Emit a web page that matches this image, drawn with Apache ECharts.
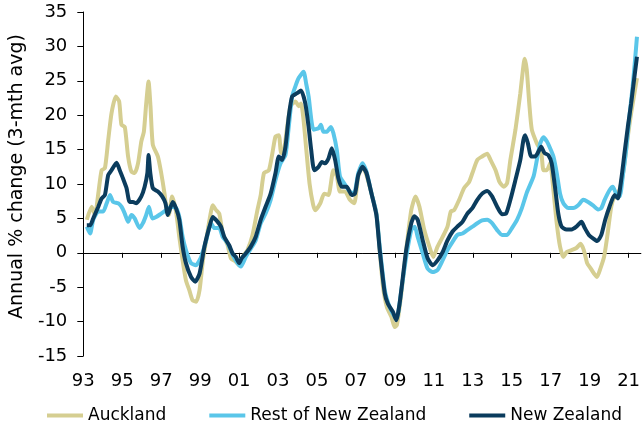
<!DOCTYPE html>
<html>
<head>
<meta charset="utf-8">
<script src="https://cdn.jsdelivr.net/npm/echarts@6/dist/echarts.min.js"></script>
<style>
  html, body { margin: 0; padding: 0; background: #fff; }
  #chart { width: 643px; height: 429px; }
</style>
</head>
<body>
<div id="chart"></div>
<script>
  // x labels (two-digit years), every second year from 1993
  var xTickLabels = ['93', '95', '97', '99', '01', '03', '05', '07', '09', '11', '13', '15', '17', '19', '21']
  var xTickYears = xTickLabels.map(function (s, i) { return 1993 + i * 2 })

  var seriesNames = ['Auckland', 'Rest of New Zealand', 'New Zealand']
  var seriesColors = ['#d5ce91', '#5ac6e9', '#0b3c5d']

  // [year, annual % change (3-mth avg)]
  var auckland = [
    [1993.18, 4.8], [1993.43, 6.7], [1993.6, 5.5], [1993.77, 8.6], [1993.94, 12.0], [1994.11, 12.3], [1994.28, 16.4],
    [1994.45, 20.3], [1994.67, 22.7], [1994.84, 22.0], [1994.96, 18.6], [1995.13, 18.3], [1995.3, 14.0], [1995.47, 11.8],
    [1995.64, 11.6], [1995.81, 13.0], [1995.98, 16.2], [1996.11, 17.6], [1996.23, 21.7], [1996.35, 24.9], [1996.45, 21.3],
    [1996.57, 15.7], [1996.83, 14.0], [1997.0, 11.6], [1997.17, 8.6], [1997.28, 6.2], [1997.39, 5.5], [1997.56, 8.2],
    [1997.76, 6.0], [1997.93, 2.3], [1998.1, -1.1], [1998.27, -4.0], [1998.44, -5.4], [1998.61, -6.9], [1998.8, -7.1],
    [1998.97, -5.4], [1999.14, -1.1], [1999.31, 1.8], [1999.48, 4.8], [1999.65, 6.9], [1999.82, 6.2], [1999.98, 5.7],
    [2000.16, 2.8], [2000.41, 1.1], [2000.58, -0.8], [2000.83, -1.3], [2001.0, -1.8], [2001.18, -0.6], [2001.43, 0.4],
    [2001.69, 2.6], [2001.94, 6.2], [2002.11, 8.4], [2002.28, 11.6], [2002.53, 12.0], [2002.71, 14.5], [2002.87, 16.9],
    [2003.04, 17.1], [2003.16, 14.5], [2003.3, 14.9], [2003.47, 18.3], [2003.64, 21.3], [2003.9, 22.0], [2004.06, 21.3],
    [2004.18, 21.7], [2004.31, 19.3], [2004.45, 15.0], [2004.62, 10.0], [2004.8, 7.0], [2004.91, 6.2], [2005.17, 7.2],
    [2005.37, 8.6], [2005.59, 8.4], [2005.84, 12.0], [2006.02, 11.1], [2006.18, 8.9], [2006.44, 8.9], [2006.69, 7.7],
    [2006.91, 7.2], [2007.12, 11.1], [2007.34, 12.5], [2007.54, 11.3], [2007.8, 8.6], [2008.05, 5.7], [2008.22, 0.4],
    [2008.39, -4.9], [2008.59, -7.9], [2008.82, -9.3], [2008.99, -10.8], [2009.1, -10.5], [2009.33, -5.9], [2009.58, 0.4],
    [2009.84, 6.2], [2010.06, 8.2], [2010.26, 6.7], [2010.51, 3.3], [2010.77, 0.9], [2010.97, -0.6], [2011.19, 0.9],
    [2011.45, 2.3], [2011.7, 3.8], [2011.87, 6.0], [2012.04, 6.2], [2012.3, 7.7], [2012.55, 9.4], [2012.81, 10.3],
    [2012.98, 11.6], [2013.23, 13.5], [2013.48, 14.0], [2013.74, 14.4], [2013.91, 13.5], [2014.17, 12.0], [2014.37, 10.3],
    [2014.59, 9.6], [2014.76, 10.1], [2014.93, 13.5], [2015.19, 17.9], [2015.44, 23.2], [2015.55, 26.0], [2015.66, 28.2],
    [2015.77, 26.6], [2015.9, 21.7], [2016.03, 17.9], [2016.29, 15.9], [2016.51, 14.7], [2016.63, 12.0], [2016.8, 12.0],
    [2016.97, 13.0], [2017.14, 9.1], [2017.31, 4.3], [2017.48, 0.9], [2017.65, -0.6], [2017.82, 0.1], [2018.07, 0.4],
    [2018.32, 0.7], [2018.53, 1.3], [2018.7, 0.4], [2018.87, -1.5], [2019.06, -2.3], [2019.22, -3.0], [2019.38, -3.5],
    [2019.55, -2.3], [2019.74, -0.6], [2019.9, 2.3], [2020.11, 6.7], [2020.28, 8.2], [2020.45, 8.6], [2020.62, 10.1],
    [2020.79, 13.0], [2020.96, 16.9], [2021.13, 20.3], [2021.3, 23.2], [2021.43, 25.4]
  ]

  var restOfNZ = [
    [1993.18, 3.8], [1993.35, 2.8], [1993.51, 4.8], [1993.77, 6.0], [1994.02, 6.0], [1994.2, 7.2], [1994.37, 8.4],
    [1994.53, 7.4], [1994.79, 7.2], [1994.96, 6.7], [1995.13, 5.7], [1995.3, 4.5], [1995.47, 5.5], [1995.64, 5.0],
    [1995.89, 3.6], [1996.06, 4.3], [1996.23, 5.5], [1996.37, 6.7], [1996.54, 5.0], [1996.74, 5.2], [1997.0, 5.7],
    [1997.25, 6.2], [1997.51, 6.7], [1997.76, 6.5], [1997.93, 5.2], [1998.1, 2.3], [1998.27, 0.4], [1998.53, -1.5],
    [1998.78, -1.8], [1999.05, -0.6], [1999.31, 1.8], [1999.56, 4.3], [1999.73, 3.6], [1999.98, 3.6], [2000.16, 2.3],
    [2000.41, 1.4], [2000.67, -0.3], [2000.92, -1.5], [2001.09, -2.0], [2001.34, -0.6], [2001.6, 0.6], [2001.85, 1.8],
    [2002.11, 4.3], [2002.36, 5.7], [2002.62, 7.7], [2002.87, 10.6], [2003.13, 13.0], [2003.38, 14.2], [2003.55, 18.3],
    [2003.72, 22.7], [2003.89, 24.2], [2004.06, 25.4], [2004.31, 26.3], [2004.45, 24.5], [2004.57, 22.7], [2004.82, 17.9],
    [2005.08, 18.1], [2005.2, 18.6], [2005.33, 17.6], [2005.51, 17.6], [2005.71, 18.3], [2005.84, 17.4], [2006.02, 14.9],
    [2006.18, 11.1], [2006.44, 9.9], [2006.69, 8.9], [2006.9, 8.6], [2007.12, 11.6], [2007.34, 13.0], [2007.54, 11.8],
    [2007.8, 8.6], [2008.05, 5.7], [2008.22, 0.9], [2008.48, -5.4], [2008.73, -7.9], [2008.99, -9.3], [2009.1, -9.5],
    [2009.33, -5.4], [2009.58, -0.6], [2009.84, 3.3], [2010.02, 3.8], [2010.17, 2.3], [2010.43, -0.1], [2010.68, -2.3],
    [2010.94, -2.8], [2011.19, -2.5], [2011.45, -1.1], [2011.7, 0.4], [2011.96, 1.6], [2012.21, 2.6], [2012.47, 2.8],
    [2012.72, 3.3], [2012.98, 3.8], [2013.23, 4.3], [2013.48, 4.7], [2013.74, 4.8], [2013.99, 4.3], [2014.25, 3.3],
    [2014.5, 2.6], [2014.76, 2.6], [2015.01, 3.6], [2015.27, 4.8], [2015.52, 6.5], [2015.78, 8.8], [2016.12, 11.1],
    [2016.29, 13.5], [2016.46, 15.9], [2016.63, 16.8], [2016.8, 16.2], [2016.97, 15.2], [2017.14, 14.0], [2017.31, 11.6],
    [2017.48, 8.6], [2017.65, 7.2], [2017.9, 6.5], [2018.16, 6.5], [2018.41, 6.9], [2018.67, 7.7], [2018.92, 7.4],
    [2019.17, 6.9], [2019.43, 6.3], [2019.6, 6.5], [2019.77, 7.7], [2020.02, 9.1], [2020.19, 9.6], [2020.36, 8.6],
    [2020.54, 8.2], [2020.7, 11.1], [2020.87, 14.9], [2021.04, 19.8], [2021.21, 24.2], [2021.33, 28.0], [2021.43, 31.4]
  ]

  var newZealand = [
    [1993.18, 4.0], [1993.35, 4.0], [1993.51, 5.0], [1993.77, 6.7], [1993.94, 7.9], [1994.11, 8.4], [1994.28, 11.3],
    [1994.45, 12.0], [1994.71, 13.1], [1994.87, 12.0], [1995.04, 10.8], [1995.22, 9.4], [1995.38, 7.4], [1995.55, 7.4],
    [1995.72, 7.2], [1995.98, 8.2], [1996.15, 9.6], [1996.29, 11.6], [1996.35, 14.2], [1996.44, 11.6], [1996.57, 9.4],
    [1996.83, 8.9], [1997.05, 8.2], [1997.22, 7.2], [1997.34, 5.5], [1997.59, 7.4], [1997.76, 6.5], [1997.93, 4.8],
    [1998.1, 0.9], [1998.27, -1.5], [1998.53, -3.5], [1998.75, -4.2], [1998.97, -3.0], [1999.22, 0.9], [1999.48, 3.8],
    [1999.65, 5.2], [1999.9, 4.5], [2000.07, 3.8], [2000.24, 2.3], [2000.49, 1.1], [2000.67, -0.1], [2000.83, -0.6],
    [2001.0, -1.5], [2001.13, -0.8], [2001.34, -0.1], [2001.6, 0.9], [2001.85, 2.3], [2002.11, 4.8], [2002.36, 6.7],
    [2002.62, 8.6], [2002.87, 11.6], [2003.04, 14.0], [2003.21, 13.5], [2003.38, 15.4], [2003.55, 19.8], [2003.72, 22.7],
    [2003.98, 23.2], [2004.18, 23.6], [2004.4, 21.7], [2004.57, 18.3], [2004.7, 15.0], [2004.86, 12.0], [2005.08, 12.5],
    [2005.25, 13.2], [2005.42, 13.0], [2005.59, 13.7], [2005.76, 15.2], [2005.93, 13.5], [2006.1, 10.8], [2006.27, 9.6],
    [2006.52, 9.6], [2006.78, 8.4], [2006.95, 8.6], [2007.12, 11.3], [2007.34, 12.5], [2007.54, 11.6], [2007.8, 8.6],
    [2008.05, 5.5], [2008.22, 0.4], [2008.48, -5.9], [2008.64, -7.4], [2008.9, -8.6], [2009.07, -9.8], [2009.24, -7.4],
    [2009.41, -3.5], [2009.58, 0.4], [2009.84, 4.3], [2010.0, 5.3], [2010.17, 4.8], [2010.43, 1.8], [2010.68, -0.8],
    [2010.94, -1.8], [2011.19, -1.1], [2011.45, 0.1], [2011.7, 1.8], [2011.96, 3.1], [2012.21, 3.8], [2012.47, 4.5],
    [2012.72, 5.7], [2012.98, 6.5], [2013.23, 7.7], [2013.48, 8.6], [2013.74, 9.0], [2013.99, 8.2], [2014.25, 6.7],
    [2014.5, 5.6], [2014.71, 5.7], [2014.93, 7.7], [2015.19, 10.6], [2015.44, 13.5], [2015.6, 16.4], [2015.69, 17.1],
    [2015.83, 15.9], [2016.0, 14.0], [2016.2, 14.0], [2016.37, 14.7], [2016.51, 15.4], [2016.68, 14.5], [2016.88, 14.2],
    [2017.05, 13.0], [2017.22, 9.6], [2017.39, 5.7], [2017.56, 3.8], [2017.81, 3.4], [2018.07, 3.4], [2018.32, 3.8],
    [2018.58, 4.5], [2018.75, 3.6], [2018.96, 2.6], [2019.17, 2.1], [2019.39, 1.7], [2019.6, 2.6], [2019.8, 4.8],
    [2020.02, 6.7], [2020.28, 8.4], [2020.45, 7.9], [2020.62, 10.6], [2020.79, 14.5], [2020.96, 18.3], [2021.13, 21.7],
    [2021.3, 25.6], [2021.43, 28.5]
  ]

  var seriesData = [auckland, restOfNZ, newZealand]

  var chart = echarts.init(document.getElementById('chart'))
  var font = 'DejaVu Sans, Verdana, sans-serif'

  var series = []
  for (var i = 0; i < seriesData.length; i++) {
    series.push({
      name: seriesNames[i],
      type: 'line',
      data: seriesData[i],
      showSymbol: false,
      symbol: 'none',
      smooth: 0.2,
      color: seriesColors[i],
      lineStyle: {
        width: 4,
        color: seriesColors[i]
      }
    })
  }

  chart.setOption({
    animation: false,
    textStyle: { fontFamily: font },
    grid: {
      left: 81,
      right: 0,
      top: 12,
      bottom: 73
    },
    legend: {
      left: 42,
      top: 402,
      icon: 'rect',
      itemWidth: 36,
      itemHeight: 4,
      itemGap: 43,
      data: seriesNames,
      textStyle: {
        fontSize: 17,
        color: '#000',
        fontFamily: font
      }
    },
    xAxis: [{
      type: 'value',
      min: 1993,
      max: 2021.63,
      axisLine: {
        onZero: true,
        lineStyle: { color: '#000', width: 1 }
      },
      axisTick: {
        length: 5,
        customValues: xTickYears,
        lineStyle: { color: '#000' }
      },
      axisLabel: { show: false },
      splitLine: { show: false }
    }, {
      type: 'value',
      position: 'bottom',
      min: 1993,
      max: 2021.63,
      axisLine: { show: false, onZero: false },
      axisTick: { show: false },
      axisLabel: {
        customValues: xTickYears,
        margin: 16,
        fontSize: 18,
        color: '#000',
        fontFamily: font,
        formatter: function (v) {
          var idx = xTickYears.indexOf(Math.round(v))
          return idx >= 0 ? xTickLabels[idx] : ''
        }
      },
      splitLine: { show: false }
    }],
    yAxis: {
      type: 'value',
      min: -15,
      max: 35,
      interval: 5,
      name: 'Annual % change (3-mth avg)',
      nameLocation: 'middle',
      nameGap: 53,
      nameTextStyle: {
        fontSize: 19,
        color: '#000',
        fontFamily: font,
        padding: [0, 0, 0, 15]
      },
      axisLine: {
        show: true,
        lineStyle: { color: '#000', width: 1 }
      },
      axisTick: {
        show: true,
        length: 6,
        lineStyle: { color: '#000' }
      },
      axisLabel: {
        margin: 16,
        fontSize: 18,
        color: '#000',
        fontFamily: font
      },
      splitLine: { show: false }
    },
    series: series
  })
</script>
</body>
</html>
